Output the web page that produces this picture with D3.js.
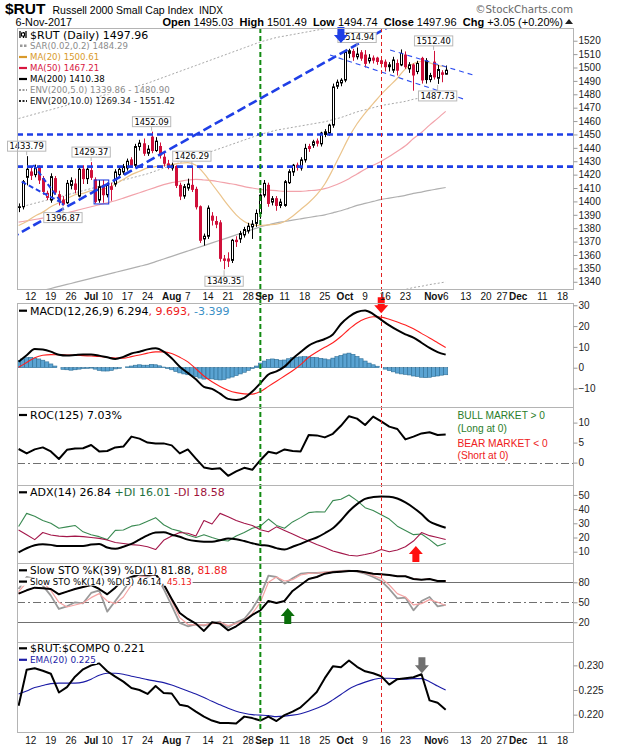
<!DOCTYPE html>
<html><head><meta charset="utf-8">
<script src="https://cdn.jsdelivr.net/npm/d3@7/dist/d3.min.js"></script>
<style>
html,body{margin:0;padding:0;background:#fff;}
svg{display:block;}
text{white-space:pre;}
</style></head>
<body>
<svg id="chart" width="620" height="750"></svg>
<script>
// ================= DATA =================
const startDate = "2017-06-07", endDate = "2017-12-29";
const holidays = ["2017-07-04","2017-09-04","2017-11-23","2017-12-25"];

const openP = [1395.5,1396,1418,1422,1420,1425,1417,1403,1401,1417,
 1405,1401,1399,1412,1413,1404,1424,1417,1423,1416,
 1401,1412,1405,1411,1413,1420,1422,1425,1431,1427,
 1441,1443,1436,1448,1438,1441,1433,1428,1425,1426,
 1412,1404,1410,1412,1409,1396,1372,1374,1389,1385,
 1384,1357,1357,1356,1371,1372,1375,1378,1381,1383.6,
 1391,1404.7,1412,1399.5,1402,1397,1397,1414,1422,1427,
 1425,1431,1441,1442,1445,1443,1450,1451,1457,1486,
 1488.5,1490.6,1510.6,1512,1508,1511,1509.3,1505,1507,1507,
 1505,1504,1500.6,1498,1503,1501.9,1509.3,1499,1501.9,1497,
 1506.8,1505,1491,1504,1492,1496,1495.03];
const highP = [1398.5,1416,1433.79,1425,1427.5,1427,1419,1408,1421,1419,
 1408,1404,1416,1418,1417,1426,1427,1426,1429.37,1418,
 1416,1416,1414,1414,1424,1426,1428,1432,1433,1443,
 1446,1447,1442,1452.09,1448,1444,1436,1431,1429,1427,
 1414,1413,1417,1426.29,1411,1397,1376,1397,1392,1389,
 1386,1360,1362,1372,1374,1378,1381,1384,1386,1394,
 1406,1416,1414,1404,1404,1402,1416,1424,1428,1429,
 1433,1443,1443,1446,1447,1452,1454,1458,1488,1491,
 1492,1513,1514,1514,1514.94,1513,1513,1510,1509,1508,
 1507,1506,1504,1508,1506,1513.5,1512,1504,1503,1505,
 1508,1507,1496,1512.40,1502,1498,1501.49];
const lowP = [1392,1394,1412,1416,1418,1413,1405,1401,1399,1405,
 1397,1396.87,1398,1409,1406,1403,1413,1413,1416,1398.5,
 1399,1399,1403,1400.5,1411,1418,1420,1423,1425,1425,
 1438,1434,1434,1436,1437,1432,1426,1424,1423,1410,
 1401,1402,1408,1407,1394,1369,1367,1372,1382,1380,
 1355,1349.35,1351,1354,1366,1369,1373,1376,1372,1381,
 1387,1403,1396,1397,1393,1395,1396,1413,1419,1423,
 1423,1429,1437,1440,1441,1441,1448,1449,1455,1484,
 1486,1489,1507,1505,1506,1505,1500,1503,1503,1502,
 1500,1497,1497,1496,1494,1501,1499,1496,1482.7,1495,
 1488,1488,1489,1491,1487.73,1489,1494.74];
const closeP = [1396,1414.7,1424,1419.5,1425,1416,1407.5,1406,1418.5,1407,
 1400,1398,1413.5,1415.5,1409,1424,1417,1424,1418,1400,
 1411,1405,1412,1409,1422,1424,1426,1430,1427,1441,
 1443.5,1436,1439,1438,1445,1434.6,1428.5,1426,1427,1412,
 1404,1411,1413,1409,1396,1371,1374,1395,1386,1383,
 1357.5,1356,1355.5,1371,1370,1376,1379,1381.5,1383,1391,
 1404.7,1413.5,1398.5,1402,1397,1399.5,1414.7,1422.2,1427,1425.5,
 1431,1439.6,1439.5,1444.5,1443.5,1451,1452,1457,1485.5,1489,
 1490.5,1511.9,1512.5,1508,1510,1507,1503.1,1507,1505.5,1504.5,
 1503,1500.6,1502,1505.6,1498,1510.5,1500.6,1502,1494.4,1503,
 1490.7,1491,1494,1493,1498.5,1494.91,1497.96];

// indicator series sampled every 2nd trading day (day 0, 2, 4 ... 106)
const lineStep = 2;
const ma20 = [1382,1385,1389,1392,1396,1399,1402,1405,1406,1408,
 1408.5,1410,1413,1416.5,1420,1422.5,1425,1426,1427,1427.5,
 1428.5,1429,1427,1421,1413,1405,1397,1390,1385,1382.5,
 1382,1382.5,1383,1385,1389,1394,1399,1405,1413,1424,
 1436,1448,1458,1466,1473,1480,1486,1492,1499,1503,
 1504.5,1503.5,1501.5,1500.61];
const ma50 = [1384.5,1385.5,1386.5,1387.5,1388.5,1390,1391.5,1393,1394.5,1396,
 1397.5,1399,1400.5,1402.5,1404.5,1406.5,1408.5,1410.5,1412.5,1414,
 1415,1416,1416.5,1416,1415.5,1414.5,1413.5,1412.5,1411,1410,
 1409,1408.5,1408,1407.5,1407.5,1407.5,1408,1408.5,1409.5,1411.5,
 1414,1417,1420.5,1424,1427,1430,1433.5,1437.5,1441.5,1447,
 1451.5,1457,1462,1467.21];
const ma200 = [1329,1330.5,1332,1333.5,1335,1336.5,1338,1339.5,1341,1342.5,
 1344,1345.5,1347,1348.5,1350,1351.5,1353,1355,1357,1359,
 1361,1363,1365,1367,1369,1371,1373,1375,1377,1379,
 1381,1382.5,1384,1385,1386,1387,1388,1389,1390,1391.5,
 1393,1395,1397,1398.5,1400,1401.5,1402.5,1403.5,1404.5,1406,
 1407,1408.3,1409.3,1410.38];
const envFactors = [0.9, 0.95, 1.05, 1.1];
const sarLast = 1484.29;

const macdLine = [2.9,6,9,8.7,7.7,6.2,5.8,6.1,6.4,6.4,
 5.8,5,4.2,5.2,6.8,7.7,8.8,9.3,7.7,4.5,
 0.5,-2.5,-5.6,-9.2,-10.2,-12.5,-15,-15.5,-14.5,-11.5,
 -7.5,-3.3,-1.8,0.5,4.3,7.5,10.6,12.5,13.8,16,
 21,24.5,26.8,27.5,25.8,23,20.3,18,16,14.5,
 12,9.5,7.5,6.294];
const signalLine = [0.2,2.5,4.8,6,6.3,6.2,6.1,6,5.8,5.6,
 5.4,5,4.6,4.6,5.3,6.1,7,7.6,7.6,6.8,
 5,2.8,-0.5,-4,-6.8,-9,-10.8,-12,-12.6,-12.7,
 -11.5,-9,-6.5,-4,-1.5,1.5,5,7.5,9.8,12,
 15,18.5,21.5,23.5,24.5,24.3,23.3,22,20.5,18.7,
 16.5,14.3,12,9.693];
// daily histogram
const macdHist = [3.5,4.2,4.8,5.0,4.6,4.2,3.6,2.8,1.8,0.8,
 0.0,-0.8,-1.0,-1.2,-1.0,-0.7,-0.4,-0.3,-0.2,-0.7,
 -1.3,-1.6,-1.6,-1.3,-0.6,-0.3,0.0,0.4,0.8,1.2,
 1.4,1.2,1.2,1.6,1.4,0.9,0.3,-0.4,-1.0,-1.8,
 -2.5,-3.0,-3.4,-3.8,-4.3,-5.0,-5.5,-5.3,-5.4,-5.7,
 -5.9,-5.7,-5.0,-4.5,-3.8,-3.0,-2.2,-1.3,-0.4,0.8,
 2.2,3.2,3.9,4.2,4.0,3.6,3.7,4.3,4.8,5.0,
 5.2,5.3,5.2,5.0,4.8,4.5,4.2,3.8,4.6,5.3,
 5.9,6.6,7.0,6.4,5.4,4.3,3.2,2.2,1.4,0.7,
 0.0,-0.7,-1.4,-2.0,-2.6,-3.0,-3.2,-3.5,-4.0,-4.2,
 -4.6,-4.8,-4.6,-4.2,-4.0,-3.6,-3.399];

const roc125 = [3.4,2.3,3.3,3.8,2.8,0.9,3.2,3.5,3.6,4.4,
 2.8,2.9,3.8,4.0,6.5,6.0,5.0,4.8,4.8,4.3,
 2.3,3.3,1.0,-1.2,-1.6,-1.4,-3.3,-2.2,-1.3,-1.8,
 0.6,2.7,2.3,3.3,2.9,2.8,6.9,6.8,6.3,7.2,
 9.2,11.6,11.0,9.4,11.5,10.3,9.0,8.4,5.8,6.5,
 7.3,7.6,6.9,7.03];

const adx14 = [9.5,12.4,14.5,15.2,14.8,14,14,14,14,15,
 15.5,13,12,13.5,15.5,18.5,21.5,23.5,23.7,22,
 20.5,18.5,17.5,17,17,18,19.3,18.8,17.5,16,
 14.7,14.2,12.5,11.5,13.5,15.5,18,20,23,26.5,
 32,38.5,43.5,47.2,48.5,48.9,48.8,47.5,44.7,41,
 36.5,31.3,28.8,26.84];
const plusDI = [27.7,37,35,32,30,26.5,27.5,28.5,24,22,
 20.6,18.5,25,25.3,28,29,31.5,34,29,26,
 24.5,21.8,20,22,20,18.2,17.5,21,23.5,26.5,
 28,33,28.5,26.5,31,34,37.5,38.2,38,46,
 47,50,46,41,39,36,33,28,25,22,
 22.5,18.5,14,16.01];
const minusDI = [25.3,22,18.5,23.5,21.8,21,20.6,21,20.6,20,
 19.4,18.2,16.5,15.8,15,14.5,13.5,11.5,18,21,
 23.5,23,21,32,29.5,37,34.7,32,30,28.5,
 25.5,24,27.5,25,22.5,19.8,17.5,15,13,10.5,
 9,7.5,7,8,9.3,11.5,10,11.2,13.5,17.5,
 23.5,21.3,20,18.58];

const stoK39 = [63,68,72,71,70,62,66,70,73,76,
 70,62,72,84,88,92,91,92,77,55,
 34,25,18,7,20,18,8,14,22,31,
 38,52,49,52,67,76,85,88,93,95,
 96,97,97,95,93,92,91,89,89,85,
 84,85,82,81.88];
const stoK14 = [70,88,85,75,60,40,44,50,48.5,64,
 68,36,52,68,85,92,88,93,70,45,
 19,14,17,15,19,21,12,20,25,40,
 60,90,88,78,86,93,94,94,95,96,
 97,97.5,96,93,88,82,70,56,57,38,
 52,58,44,46.14];
const stoD3 = [66,80,86,80,68,50,43,46,49,57,
 63,52,48,58,76,88,90,91,78,52,
 27,17,16,16,18,20,15,18,23,33,
 50,80,88,82,84,91,93.5,94,95,96,
 97,97,96.5,94,90,86,76,63,58,46,
 48,54,50,45.13];

const ratioRC = [0.2218,0.2291,0.2294,0.2289,0.2283,0.2245,0.2256,0.2277,0.2292,0.2300,
 0.2304,0.2288,0.2277,0.2267,0.2254,0.2250,0.2242,0.2258,0.2244,0.2243,
 0.2220,0.2217,0.2206,0.2196,0.2188,0.2183,0.2183,0.2182,0.2196,0.2193,
 0.2188,0.2196,0.2187,0.2199,0.2206,0.2215,0.2230,0.2246,0.2274,0.2298,
 0.2296,0.2310,0.2297,0.2288,0.2284,0.2278,0.2261,0.2272,0.2274,0.2276,
 0.2282,0.2229,0.2224,0.221];
const ratioEma = [0.2242,0.2248,0.2255,0.2259,0.2263,0.2264,0.2264,0.2264,0.2266,0.2272,
 0.2280,0.2284,0.2284,0.2282,0.2278,0.2275,0.2271,0.2268,0.2265,0.2260,
 0.2254,0.2248,0.2242,0.2235,0.2227,0.2220,0.2213,0.2207,0.2203,0.2200,
 0.2199,0.2198,0.2196,0.2197,0.2199,0.2202,0.2207,0.2213,0.2220,0.2230,
 0.2241,0.2252,0.2260,0.2266,0.2271,0.2274,0.2274,0.2273,0.2272,0.2273,
 0.2273,0.2267,0.2258,0.225];

const tickDates = ["2017-06-12","2017-06-19","2017-06-26","2017-07-03","2017-07-10","2017-07-17","2017-07-24",
 "2017-08-01","2017-08-07","2017-08-14","2017-08-21","2017-08-28","2017-09-01","2017-09-11","2017-09-18",
 "2017-09-25","2017-10-02","2017-10-09","2017-10-16","2017-10-23","2017-11-01","2017-11-06","2017-11-13",
 "2017-11-20","2017-11-27","2017-12-01","2017-12-11","2017-12-18"];
const tickLabels = ["12","19","26","Jul","10","17","24","Aug","7","14","21","28","Sep","11","18","25","Oct",
 "9","16","23","Nov","6","13","20","27","Dec","11","18"];
const monthNames = ["Jul","Aug","Sep","Oct","Nov","Dec"];

const priceTicks = [1340,1350,1360,1370,1380,1390,1400,1410,1420,1430,1440,1450,1460,1470,1480,1490,1500,1510,1520];
const macdTicks = [-10,0,10,20,30];
const rocTicks = [0,5,10];
const adxTicks = [10,20,30,40,50];
const stoTicks = [20,50,80];
const ratioTicks = [0.220,0.225,0.230];

// annotations (trading-day index, price)
const priceLabels = [
 {i:2,v:1433.79,pos:"above"},{i:18,v:1429.37,pos:"above"},{i:33,v:1452.09,pos:"above"},
 {i:43,v:1426.29,pos:"above"},{i:51,v:1349.35,pos:"below"},{i:11,v:1396.87,pos:"below"},
 {i:84,v:1514.94,pos:"above"},{i:103,v:1512.40,pos:"above"},{i:104,v:1487.73,pos:"below"}];
const riseLine = [[0,1375.9],[80,1510.5]];
const supportLevels = [1450, 1426];
const juneLines = [[[3.65,1427.2],[11.1,1397.3]],[[0.77,1414.7],[10.8,1398.8]]];
const channelLines = [[[92.2,1513.1],[112.8,1494.4]],[[77.3,1509.3],[111.2,1475.7]]];
const boxAnn = {i0:19.1,i1:22.0,hi:1416,lo:1398.1};
const greenMarkerDay = 60, redMarkerDay = 90;
const arrows = [
 {panel:"main",i:80,v:1518.3,dir:"down",color:"#1f3fe6"},
 {panel:"macd",i:90,v:26.2,dir:"down",color:"#ff1010"},
 {panel:"adx",i:98.6,v:14,dir:"up",color:"#ff1010"},
 {panel:"sto",i:66.8,v:41.5,dir:"up",color:"#0a6e0a"},
 {panel:"ratio",i:100.1,v:0.2284,dir:"down",color:"#707070"}];

// ================= DRAW =================
const svg = d3.select("#chart");
const FONT = "'Liberation Sans', Arial, sans-serif";
const VFONT = "'DejaVu Sans', Verdana, sans-serif";
const L = 17, R = 573;

const dates = [];
{
  const d = new Date(startDate+"T00:00:00Z"), e = new Date(endDate+"T00:00:00Z");
  while (d <= e) {
    const wd = d.getUTCDay(), s = d.toISOString().slice(0,10);
    if (wd>0 && wd<6 && !holidays.includes(s)) dates.push(s);
    d.setUTCDate(d.getUTCDate()+1);
  }
}
const x = d3.scaleLinear().domain([-0.4,137.6]).range([L,R]);

svg.append("rect").attr("width",620).attr("height",750).attr("fill","#fff");
const defs = svg.append("defs");
const P = {};
[["main",28,289,[1334.6,1529.5]],["macd",303,407,[-18.9,31.1]],["roc",407,485,[-5.6,13.9]],
 ["adx",485,563,[2.03,57]],["sto",563,642,[-9.6,109]],["ratio",642,732,[0.21648,0.23474]]]
.forEach(([k,t,b,dom])=>{
  const y = d3.scaleLinear().domain(dom).range([b,t]);
  defs.append("clipPath").attr("id","clip-"+k).append("rect").attr("x",L).attr("y",t).attr("width",R-L).attr("height",b-t);
  const g = svg.append("g");
  const inner = g.append("g").attr("clip-path",`url(#clip-${k})`);
  P[k] = {top:t,bottom:b,y,g,inner};
});

function seriesLine(panel, arr, color, width, opts={}){
  const y = P[panel].y;
  const ln = d3.line().x((d,k)=>x(k*lineStep)).y(d=>y(d));
  if (opts.curve) ln.curve(d3.curveMonotoneX);
  P[panel].inner.append("path").datum(arr).attr("fill","none").attr("stroke",color)
    .attr("stroke-width",width).attr("stroke-dasharray",opts.dash||null)
    .attr("stroke-linejoin","round").attr("opacity",opts.opacity||1).attr("d",ln);
}
function hRef(panel, v, dash){
  const y=P[panel].y;
  P[panel].inner.append("line").attr("x1",L).attr("x2",R).attr("y1",Math.round(y(v))+0.5).attr("y2",Math.round(y(v))+0.5)
    .attr("stroke","#707070").attr("stroke-width",1).attr("stroke-dasharray",dash||null);
}

// ---- main panel ----
const yM = P.main.y;
envFactors.forEach(f=>seriesLine("main", ma200.map(v=>v*f), "#a8a8a8", 1, {dash:"2,2",curve:true}));
seriesLine("main", ma200, "#b0b0b0", 1.2, {curve:true});
seriesLine("main", ma50, "#f2a3ab", 1.2, {curve:true});
seriesLine("main", ma20, "#ebc48c", 1.2, {curve:true});

closeP.forEach((c,i)=>{
  const o=openP[i], h=highP[i], l=lowP[i];
  const col = (i===0 || c>=closeP[i-1]) ? "#000" : "#d0103a";
  const cx = Math.round(x(i))+0.5;
  P.main.inner.append("line").attr("x1",cx).attr("x2",cx).attr("y1",yM(h)).attr("y2",yM(l)).attr("stroke",col).attr("stroke-width",1);
  const top=yM(Math.max(o,c)), bot=yM(Math.min(o,c));
  P.main.inner.append("rect").attr("x",cx-1).attr("y",top).attr("width",2).attr("height",Math.max(bot-top,0.6))
    .attr("fill", c>o ? "#fff" : col).attr("stroke",col).attr("stroke-width",1);
});

const blue = "#1f3fe6";
function segLine(g, p1, p2, stroke, w, dash){
  g.append("line").attr("x1",x(p1[0])).attr("y1",yM(p1[1])).attr("x2",x(p2[0])).attr("y2",yM(p2[1]))
   .attr("stroke",stroke).attr("stroke-width",w).attr("stroke-dasharray",dash);
}
{
  const [a,b]=riseLine; const slope=(b[1]-a[1])/(b[0]-a[0]);
  segLine(P.main.inner,[-2,a[1]+slope*(-2-a[0])],[100,a[1]+slope*(100-a[0])],blue,2.6,"9,4");
}
supportLevels.forEach(v=>{
  P.main.inner.append("line").attr("x1",L).attr("x2",R).attr("y1",yM(v)).attr("y2",yM(v))
    .attr("stroke",blue).attr("stroke-width",2.6).attr("stroke-dasharray","6,4");
});
juneLines.forEach(([p1,p2])=>segLine(P.main.inner,p1,p2,blue,2,"5,3"));
channelLines.forEach(([p1,p2])=>segLine(P.main.inner,p1,p2,"#2e4ff0",1.1,"5,4"));
P.main.inner.append("rect").attr("x",x(boxAnn.i0)-1.5).attr("y",yM(boxAnn.hi)).attr("width",x(boxAnn.i1)-x(boxAnn.i0)+3)
  .attr("height",yM(boxAnn.lo)-yM(boxAnn.hi)).attr("fill","none").attr("stroke","#1030e0").attr("stroke-width",1);

// price labels
const gLab = svg.append("g");
priceLabels.forEach(pl=>{
  const cx=x(pl.i), py=yM(pl.v), h=10;
  const boxTop = pl.pos==="above" ? py-5-h : py+7;
  const t = gLab.append("text").attr("x",cx).attr("y",boxTop+8).attr("text-anchor","middle")
    .attr("font-family",VFONT).attr("font-size",8.3).attr("fill","#000").text(pl.v.toFixed(2));
  const bb=t.node().getBBox();
  gLab.insert("rect",()=>t.node()).attr("x",bb.x-2).attr("y",boxTop).attr("width",bb.width+4).attr("height",h)
    .attr("fill","#fff").attr("stroke","#b8b8b8").attr("stroke-width",1);
  gLab.insert("line",()=>t.node()).attr("x1",cx).attr("x2",cx)
    .attr("y1", pl.pos==="above"? boxTop+h : boxTop).attr("y2", pl.pos==="above"? py-1 : py+1)
    .attr("stroke","#b8b8b8").attr("stroke-width",1);
});

// ---- MACD ----
const yMacd = P.macd.y;
macdHist.forEach((v,i)=>{
  const y0=yMacd(0), y1=yMacd(v);
  P.macd.inner.append("rect").attr("x",x(i)-2).attr("width",4.03).attr("y",Math.min(y0,y1)).attr("height",Math.abs(y1-y0))
    .attr("fill","#5aa3d2").attr("stroke","#2d6e96").attr("stroke-width",0.6);
});
seriesLine("macd", signalLine, "#ff2020", 1.1, {curve:true});
seriesLine("macd", macdLine, "#000", 2, {curve:true});

// ---- ROC ----
hRef("roc", 0, "8,3,2,3");
seriesLine("roc", roc125, "#000", 2);

// ---- ADX ----
seriesLine("adx", plusDI, "#3a8a52", 1.1);
seriesLine("adx", minusDI, "#a3174a", 1.1);
seriesLine("adx", adx14, "#000", 2, {curve:true});

// ---- STO ----
hRef("sto", 80); hRef("sto", 20); hRef("sto", 50, "8,3,2,3");
seriesLine("sto", stoK14, "#9a9a9a", 1.8);
seriesLine("sto", stoD3, "#f5a3a3", 1.2);
seriesLine("sto", stoK39, "#ff2020", 1);
seriesLine("sto", stoK39, "#000", 2);

// ---- Ratio ----
seriesLine("ratio", ratioEma, "#1c1ca6", 1.1, {curve:true});
seriesLine("ratio", ratioRC, "#000", 2);

// ---- vertical markers ----
const gV = svg.append("g");
gV.append("line").attr("x1",x(greenMarkerDay)).attr("x2",x(greenMarkerDay)).attr("y1",28).attr("y2",732)
  .attr("stroke","#118a11").attr("stroke-width",2).attr("stroke-dasharray","5,3");
gV.append("line").attr("x1",Math.round(x(redMarkerDay))+0.5).attr("x2",Math.round(x(redMarkerDay))+0.5).attr("y1",28).attr("y2",732)
  .attr("stroke","#e02020").attr("stroke-width",1).attr("stroke-dasharray","4,3");

// ---- legends ----
function legend(g, yc, size, parts, icon, iconColor){
  const tx = 30;
  const t = g.append("text").attr("x",tx).attr("y",yc+size*0.36).attr("font-family",VFONT).attr("font-size",size);
  parts.forEach(([s,c])=>t.append("tspan").attr("fill",c).text(s));
  const bb = t.node().getBBox();
  g.insert("rect",()=>t.node()).attr("x",18).attr("y",bb.y+1).attr("width",bb.x+bb.width-18+1).attr("height",bb.height-2).attr("fill","#fff");
  if (icon==="dash") g.append("line").attr("x1",19).attr("x2",27).attr("y1",yc).attr("y2",yc).attr("stroke",iconColor).attr("stroke-width",2.2);
  if (icon==="dot") g.append("line").attr("x1",19).attr("x2",27).attr("y1",yc).attr("y2",yc).attr("stroke",iconColor).attr("stroke-width",2).attr("stroke-dasharray","2,1.5");
  if (icon==="sar") [20,24].forEach(px=>g.append("rect").attr("x",px).attr("y",yc-1.5).attr("width",2.5).attr("height",2.5).attr("fill",iconColor));
  if (icon==="candle") {
    [[20,yc-4,7],[23.5,yc-3,6],[26,yc-4,7]].forEach(([px,py,h])=>g.append("line").attr("x1",px).attr("x2",px).attr("y1",py).attr("y2",py+h).attr("stroke","#000").attr("stroke-width",1.3));
    g.append("rect").attr("x",21.5).attr("y",yc-2).attr("width",3).attr("height",3).attr("fill","#fff").attr("stroke","#000").attr("stroke-width",1);
  }
}
const f2 = v=>v.toFixed(2), f3=v=>v.toFixed(3);
const last = a=>a[a.length-1];
const gLeg = svg.append("g");
const m200 = last(ma200);
legend(gLeg, 35, 11, [[`$RUT (Daily) ${f2(last(closeP))}`,"#000"]], "candle");
legend(gLeg, 46, 8.6, [[`SAR(0.02,0.2) ${f2(sarLast)}`,"#8c8c8c"]], "sar", "#9a9a9a");
legend(gLeg, 57, 8.6, [[`MA(20) ${f2(last(ma20))}`,"#d99a2b"]], "dash", "#d99a2b");
legend(gLeg, 68, 8.6, [[`MA(50) ${f2(last(ma50))}`,"#d8163f"]], "dash", "#d8163f");
legend(gLeg, 79, 8.6, [[`MA(200) ${f2(m200)}`,"#000"]], "dash", "#000");
legend(gLeg, 90, 8.6, [[`ENV(200,5.0) ${f2(m200*envFactors[1])} - ${f2(m200*envFactors[2])}`,"#8c8c8c"]], "dot", "#9a9a9a");
legend(gLeg, 101, 8.6, [[`ENV(200,10.0) ${f2(m200*envFactors[0])} - ${f2(m200*envFactors[3])}`,"#222"]], "dot", "#222");

legend(gLeg, 310.7, 11, [[`MACD(12,26,9) ${f3(last(macdLine))}`,"#000"],[`, ${f3(last(signalLine))}, `,"#ee1c1c"],[f3(last(macdHist)),"#3b90c6"]], "dash", "#000");
legend(gLeg, 415, 11, [[`ROC(125) ${f2(last(roc125))}%`,"#000"]], "dash", "#000");
legend(gLeg, 492.3, 11, [[`ADX(14) ${f2(last(adx14))} `,"#000"],[`+DI ${f2(last(plusDI))} `,"#1e7040"],[`-DI ${f2(last(minusDI))}`,"#a0143c"]], "dash", "#000");
legend(gLeg, 570.3, 10.5, [[`Slow STO %K(39) %D(1) ${f2(last(stoK39))}, `,"#000"],[f2(last(stoK39)),"#ee1c1c"]], "dash", "#000");
legend(gLeg, 581.6, 8.6, [[`Slow STO %K(14) %D(3) ${f2(last(stoK14))}, `,"#000"],[f2(last(stoD3)),"#ee1c1c"]], "dash", "#000");
legend(gLeg, 648.3, 11, [[`$RUT:$COMPQ ${f3(last(ratioRC))}`,"#000"]], "dash", "#000");
legend(gLeg, 659.8, 8.9, [[`EMA(20) ${f3(last(ratioEma))}`,"#1c1ca6"]], "dash", "#1c1ca6");

// ROC notes
const notes=[["BULL MARKET > 0","#2a7d2a",419.3],["(Long at 0)","#2a7d2a",432],["BEAR MARKET < 0","#ee2020",447],["(Short at 0)","#ee2020",459.3]];
notes.forEach(([s,c,yy])=>svg.append("text").attr("x",457.5).attr("y",yy).attr("font-family",FONT).attr("font-size",10.2).attr("fill",c).text(s));

// ---- arrows ----
arrows.forEach(a=>{
  const cx=x(a.i), ty=P[a.panel].y(a.v), s=a.dir==="down"?-1:1;
  const hw=7, sw=3.5, hh=8, tot=16;
  const pts=[[cx,ty],[cx+hw,ty+s*hh],[cx+sw,ty+s*hh],[cx+sw,ty+s*tot],[cx-sw,ty+s*tot],[cx-sw,ty+s*hh],[cx-hw,ty+s*hh]];
  svg.append("polygon").attr("points",pts.map(p=>p.join(",")).join(" ")).attr("fill",a.color);
});

// ---- borders and axes ----
const gAx = svg.append("g");
Object.values(P).forEach(p=>{
  gAx.append("rect").attr("x",L+0.5).attr("y",p.top+0.5).attr("width",R-L).attr("height",p.bottom-p.top)
    .attr("fill","none").attr("stroke","#b4b4b4").attr("stroke-width",1);
});
function rightAxis(panel, ticks, fmt){
  const ax = d3.axisRight(P[panel].y).tickValues(ticks).tickSize(4).tickPadding(1).tickFormat(fmt||d3.format("d"));
  const g = gAx.append("g").attr("transform",`translate(${R+0.5},0)`).call(ax);
  g.select(".domain").remove();
  g.selectAll(".tick line").attr("stroke","#9a9a9a");
  g.selectAll("text").attr("font-family",FONT).attr("font-size",10).attr("fill","#222");
}
rightAxis("main", priceTicks);
rightAxis("macd", macdTicks);
rightAxis("roc", rocTicks);
rightAxis("adx", adxTicks);
rightAxis("sto", stoTicks);
rightAxis("ratio", ratioTicks, d3.format(".3f"));

// date labels
[300, 744].forEach(yy=>{
  tickDates.forEach((d,k)=>{
    const lab = tickLabels[k], bold = monthNames.includes(lab);
    gAx.append("text").attr("x",x(dates.indexOf(d))).attr("y",yy).attr("text-anchor","middle")
      .attr("font-family",FONT).attr("font-size",10).attr("font-weight",bold?"bold":"normal").attr("fill","#111").text(lab);
  });
});

// ---- header ----
svg.append("text").attr("x",5).attr("y",14).attr("font-family",FONT).attr("font-size",15.5).attr("font-weight","bold").text("$RUT");
svg.append("text").attr("x",52.5).attr("y",14).attr("font-family",FONT).attr("font-size",10.5).text("Russell 2000 Small Cap Index");
svg.append("text").attr("x",199).attr("y",14).attr("font-family",FONT).attr("font-size",10).text("INDX");
svg.append("text").attr("x",15.5).attr("y",26).attr("font-family",FONT).attr("font-size",10.8).text("6-Nov-2017");
svg.append("text").attr("x",573).attr("y",13).attr("text-anchor","end").attr("font-family",VFONT).attr("font-size",10.3).attr("fill","#6a6a6a").text("\u00A9StockCharts.com");
{
  const n=closeP.length-1, chg=closeP[n]-closeP[n-1], pct=chg/closeP[n-1]*100;
  const parts=[["Open",1],[" "+f2(openP[n])+"  ",0],["High",1],[" "+f2(highP[n])+"  ",0],["Low",1],[" "+f2(lowP[n])+"  ",0],
    ["Close",1],[" "+f2(closeP[n])+"  ",0],["Chg",1],[` ${chg>=0?"+":""}${f2(chg)} (${chg>=0?"+":""}${f2(pct)}%)`,0]];
  const t=svg.append("text").attr("x",563).attr("y",26).attr("text-anchor","end").attr("font-family",FONT).attr("font-size",11);
  parts.forEach(([s,b])=>t.append("tspan").attr("font-weight",b?"bold":"normal").text(s));
  svg.append("polygon").attr("points","565,24 573,24 569,19").attr("fill","#222");
}
</script>
</body></html>
